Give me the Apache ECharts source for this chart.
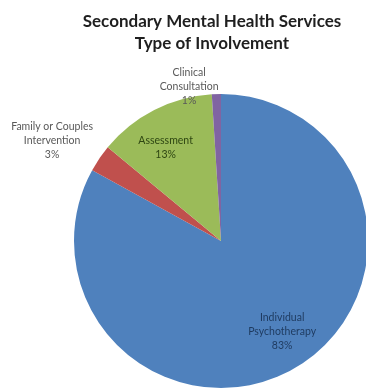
<!DOCTYPE html>
<html>
<head>
<meta charset="utf-8">
<script src="https://cdn.jsdelivr.net/npm/echarts@6/dist/echarts.min.js"></script>
<style>
  html, body { margin: 0; padding: 0; background: #ffffff; }
  #chart { width: 366px; height: 390px; }
</style>
</head>
<body>
<div id="chart"></div>
<script>
// Type of involvement, share of cases (%)
const categories = ['Individual\nPsychotherapy', 'Family or Couples\nIntervention', 'Assessment', 'Clinical\nConsultation'];
const shares = [83, 3, 13, 1];
const sliceColors = ['#4F81BD', '#C0504D', '#9BBB59', '#8064A2'];
const labelColors = ['#1E3A5F', '#595959', '#2E4612', '#595959'];

// label placement: distance along the slice's mid-angle (fraction of radius) plus a nudge
const labelPlacement = [
  { k: 0.75, dx: 5, dy: -4 },
  { k: 1.34, dx: -6, dy: 10 },
  { k: 0.77, dx: -4, dy: 7 },
  { k: 1.06, dx: -27, dy: 1 }
];

const CENTER = [221, 241];
const RADIUS = 147;
const total = shares.reduce((a, b) => a + b, 0);
const cumBefore = shares.map((v, i) => shares.slice(0, i).reduce((a, b) => a + b, 0));

const chart = echarts.init(document.getElementById('chart'), null, { renderer: 'canvas' });

chart.setOption({
  animation: false,
  title: {
    text: 'Secondary Mental Health Services\nType of Involvement',
    left: 207,
    textAlign: 'center',
    top: 6,
    textStyle: {
      fontFamily: 'Lato',
      fontWeight: 'bold',
      fontSize: 17,
      lineHeight: 22,
      color: '#1F1F1F'
    }
  },
  series: [{
    type: 'pie',
    center: CENTER,
    radius: RADIUS,
    startAngle: 90,
    clockwise: true,
    avoidLabelOverlap: false,
    labelLine: { show: false },
    itemStyle: { borderWidth: 0 },
    emphasis: { disabled: true },
    label: {
      show: true,
      position: 'inside',
      formatter: '{b}\n{c}%',
      fontFamily: 'Lato',
      fontSize: 10.5,
      lineHeight: 14,
      align: 'center'
    },
    labelLayout: function (params) {
      const i = params.dataIndex;
      const p = labelPlacement[i];
      const mid = Math.PI / 2 - 2 * Math.PI * (cumBefore[i] + shares[i] / 2) / total;
      return {
        x: CENTER[0] + p.k * RADIUS * Math.cos(mid) + p.dx,
        y: CENTER[1] - p.k * RADIUS * Math.sin(mid) + p.dy,
        align: 'center',
        verticalAlign: 'middle'
      };
    },
    data: categories.map((name, i) => ({
      name: name,
      value: shares[i],
      itemStyle: { color: sliceColors[i] },
      label: { color: labelColors[i] }
    }))
  }]
});
</script>
</body>
</html>
